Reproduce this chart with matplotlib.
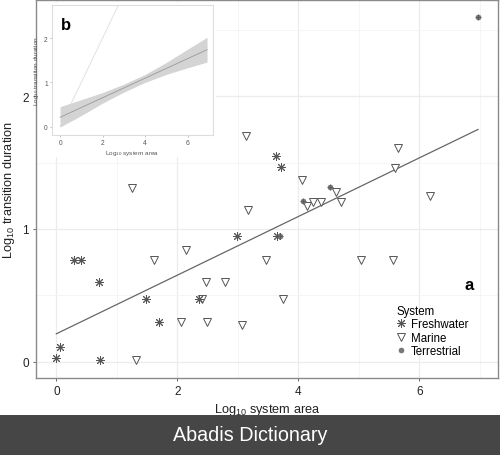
import matplotlib
matplotlib.use("Agg")
import matplotlib.pyplot as plt
import numpy as np
from matplotlib.lines import Line2D
from matplotlib.patches import Rectangle

plt.rcParams['font.family'] = ['Liberation Sans', 'DejaVu Sans']
plt.rcParams['mathtext.default'] = 'regular'

# ---- data ----
fresh_x = [0.00, 0.06, 0.29, 0.41, 0.71, 0.72, 1.48, 1.69, 2.36, 2.99, 3.63, 3.72, 3.65]
fresh_y = [0.03, 0.11, 0.77, 0.77, 0.60, 0.01, 0.47, 0.30, 0.47, 0.95, 1.55, 1.47, 0.95]

marine_x = [1.32, 1.61, 2.14, 2.06, 2.49, 2.47, 2.78, 3.07, 2.40, 3.17, 3.14, 1.25,
            5.64, 5.59, 4.06, 4.62, 4.14, 4.25, 4.38, 4.71, 6.18, 3.46, 5.03, 5.57, 3.75]
marine_y = [0.01, 0.77, 0.84, 0.30, 0.30, 0.60, 0.60, 0.28, 0.47, 1.14, 1.70, 1.31,
            1.61, 1.46, 1.37, 1.28, 1.17, 1.20, 1.20, 1.20, 1.25, 0.77, 0.77, 0.77, 0.47]

terr_x = [4.53, 4.07, 6.97, 3.70]
terr_y = [1.32, 1.21, 2.60, 0.95]

fit_intercept = 0.21
fit_slope = 0.221
fit_range = [0.0, 6.97]

band_x = [0.0, 1.0, 2.0, 3.0, 4.0, 5.0, 6.0, 6.92]
band_lo = [-0.01, 0.25, 0.53, 0.78, 1.00, 1.18, 1.33, 1.46]
band_hi = [0.45, 0.61, 0.77, 0.96, 1.18, 1.45, 1.75, 2.02]

x_ticks = [0, 2, 4, 6]
y_ticks = [0, 1, 2]

# ---- figure ----
fig = plt.figure(figsize=(5.0, 4.56), dpi=100)
ax = fig.add_axes([0.072, 0.1689, 0.924, 0.8289])
ax.set_xlim(-0.336, 7.30)
ax.set_ylim(-0.123, 2.726)

ax.set_xticks(x_ticks)
ax.set_yticks(y_ticks)
ax.set_xticks([1, 3, 5, 7], minor=True)
ax.set_yticks([0.5, 1.5, 2.5], minor=True)
ax.grid(which='major', color='#ececec', lw=0.9)
ax.grid(which='minor', color='#f4f4f4', lw=0.6)
ax.set_axisbelow(True)
ax.tick_params(which='major', length=2.5, width=0.7, color='#666', labelsize=8.5,
               labelcolor='#222', pad=2.5)
ax.tick_params(which='minor', length=0)
for s in ax.spines.values():
    s.set_color('#8a8a8a')
    s.set_linewidth(1.0)

ax.set_xlabel('Log$_{10}$ system area', fontsize=9.2, color='#222', labelpad=3)
ax.set_ylabel('Log$_{10}$ transition duration', fontsize=9.2, color='#222', labelpad=4)

fx = np.array(fit_range)
ax.plot(fx, fit_intercept + fit_slope * fx, color='#666', lw=0.9, zorder=2)

ax.plot(marine_x, marine_y, linestyle='none', marker='v', ms=5.8, mfc='white',
        mec='#555', mew=0.7, zorder=3)
ax.plot(fresh_x, fresh_y, linestyle='none', marker=(8, 2, 0), ms=6.2,
        mec='#555', mew=0.7, zorder=4)
ax.plot(terr_x, terr_y, linestyle='none', marker='o', ms=3.6, mfc='#777',
        mec='#666', mew=0.4, zorder=5)
ax.plot(terr_x, terr_y, linestyle='none', marker='+', ms=4.2, mec='#555',
        mew=0.5, zorder=6)

ax.text(6.82, 0.58, 'a', fontsize=12, fontweight='bold', ha='center', va='center')

handles = [
    Line2D([], [], linestyle='none', marker=(8, 2, 0), ms=6.2, mec='#555', mew=0.7),
    Line2D([], [], linestyle='none', marker='v', ms=5.8, mfc='white', mec='#555', mew=0.7),
    Line2D([], [], linestyle='none', marker='o', ms=3.6, mfc='#777', mec='#666', mew=0.4),
]
leg = ax.legend(handles, ['Freshwater', 'Marine', 'Terrestrial'], title='System',
                loc='upper left', bbox_to_anchor=(0.782, 0.342),
                bbox_transform=fig.transFigure, frameon=False, fontsize=8.3,
                title_fontsize=8.3, handlelength=0.8, handletextpad=0.45,
                labelspacing=0.12, borderpad=0, alignment='left')

# ---- inset ----
fig.patches.append(Rectangle((0.076, 0.653), 0.356, 0.34, transform=fig.transFigure,
                             facecolor='white', edgecolor='none', zorder=2))
ia = fig.add_axes([0.104, 0.7018, 0.322, 0.285], zorder=3)
ia.set_xlim(-0.38, 7.2)
ia.set_ylim(-0.19, 2.75)
ia.set_xticks(x_ticks)
ia.set_yticks(y_ticks)
ia.tick_params(length=1.5, width=0.5, color='#aaa', labelsize=4.8, labelcolor='#555', pad=1.5)
for s in ia.spines.values():
    s.set_color('#dddddd')
    s.set_linewidth(0.8)
ia.plot([0, 7], [0, 7], color='#e2e2e2', lw=0.7, zorder=1)
ia.fill_between(band_x, band_lo, band_hi, color='#d4d4d4', lw=0, zorder=2)
bx = np.array([band_x[0], band_x[-1]])
ia.plot(bx, fit_intercept + fit_slope * bx, color='#999', lw=0.6, zorder=3)
ia.set_xlabel('Log$_{10}$ system area', fontsize=4.6, color='#555', labelpad=1.5)
ia.set_ylabel('Log$_{10}$ transition duration', fontsize=4.6, color='#555', labelpad=2)
ia.text(0.28, 2.32, 'b', fontsize=12, fontweight='bold', ha='center', va='center')

# ---- banner ----
fig.patches.append(Rectangle((0, 0), 1, 40 / 456, transform=fig.transFigure,
                             facecolor='#464646', edgecolor='none', zorder=0))
fig.text(0.5, 20 / 456, 'Abadis Dictionary', color='white', fontsize=14.2,
         ha='center', va='center')

fig.savefig('out.png', dpi=100)
